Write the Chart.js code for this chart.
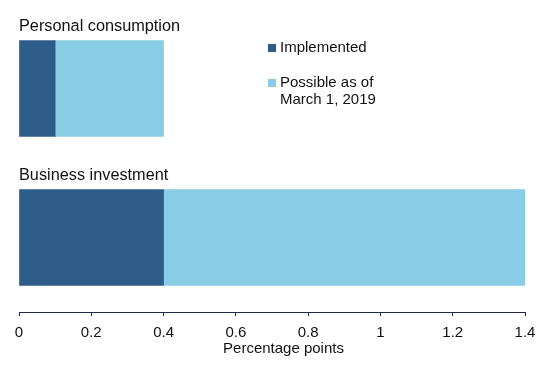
<!DOCTYPE html>
<html><head><meta charset="utf-8">
<script src="https://cdn.jsdelivr.net/npm/chart.js@4"></script>
<style>html,body{margin:0;padding:0;background:#fff}#wrap{width:550px;height:365px}</style>
</head><body><div id="wrap"><canvas id="c"></canvas></div>
<script>
const categories = ["Personal consumption", "Business investment"];
const implemented = [0.1, 0.4];
const possible = [0.3, 1.0];
const seriesLabels = [["Implemented"], ["Possible as of", "March 1, 2019"]];
const tickValues = [0, 0.2, 0.4, 0.6, 0.8, 1, 1.2, 1.4];
const xTitle = "Percentage points";
const colors = ["#2e5d8a", "#89cce6"];
const FONT = "'Liberation Sans', Arial, sans-serif";
const AXIS = "#1c2a45";

const catLabelPlugin = {
  id: 'catLabels',
  afterDatasetsDraw(chart) {
    const ctx = chart.ctx, xs = chart.scales.x;
    const meta = chart.getDatasetMeta(0);
    ctx.save();
    ctx.font = "16.3px " + FONT;
    ctx.fillStyle = "#111";
    ctx.textAlign = "left";
    ctx.textBaseline = "alphabetic";
    categories.forEach((c, i) => {
      const bar = meta.data[i];
      const top = bar.y - bar.height / 2;
      ctx.fillText(c, xs.left, top - 10);
    });
    // legend
    ctx.font = "15px " + FONT;
    const lx = 268, base = [52, 87], lh = 17;
    seriesLabels.forEach((lines, i) => {
      ctx.fillStyle = colors[i];
      ctx.fillRect(lx, base[i] - 8, 8, 8);
      ctx.fillStyle = "#111";
      lines.forEach((t, j) => ctx.fillText(t, lx + 12, base[i] + j * lh));
    });
    // axis title
    ctx.textAlign = "center";
    ctx.fillText(xTitle, xs.left + (xs.right - xs.left) * 0.5 + 11.5, 353);
    ctx.restore();
  }
};

new Chart(document.getElementById('c'), {
  type: 'bar',
  data: {
    labels: categories,
    datasets: [
      { label: seriesLabels[0].join(' '), data: implemented, backgroundColor: colors[0], barThickness: 96 },
      { label: seriesLabels[1].join(' '), data: possible, backgroundColor: colors[1], barThickness: 96 }
    ]
  },
  options: {
    indexAxis: 'y',
    responsive: true,
    maintainAspectRatio: false,
    animation: false,
    layout: { padding: { left: 19, right: 25, top: 14, bottom: 0 } },
    plugins: { legend: { display: false }, tooltip: { enabled: false } },
    scales: {
      y: { stacked: true, display: false },
      x: {
        stacked: true, min: 0, max: 1.4,
        afterBuildTicks(s) { s.ticks = tickValues.map(v => ({ value: v })); },
        afterFit(s) { s.height = 53; },
        grid: { drawOnChartArea: false, drawTicks: true, tickLength: 4, color: AXIS },
        border: { display: true, color: AXIS, width: 1 },
        ticks: { color: "#111", font: { family: FONT, size: 15 }, padding: 8, maxRotation: 0,
                 callback: v => String(v) },
        title: { display: false }
      }
    }
  },
  plugins: [catLabelPlugin]
});
</script></body></html>
